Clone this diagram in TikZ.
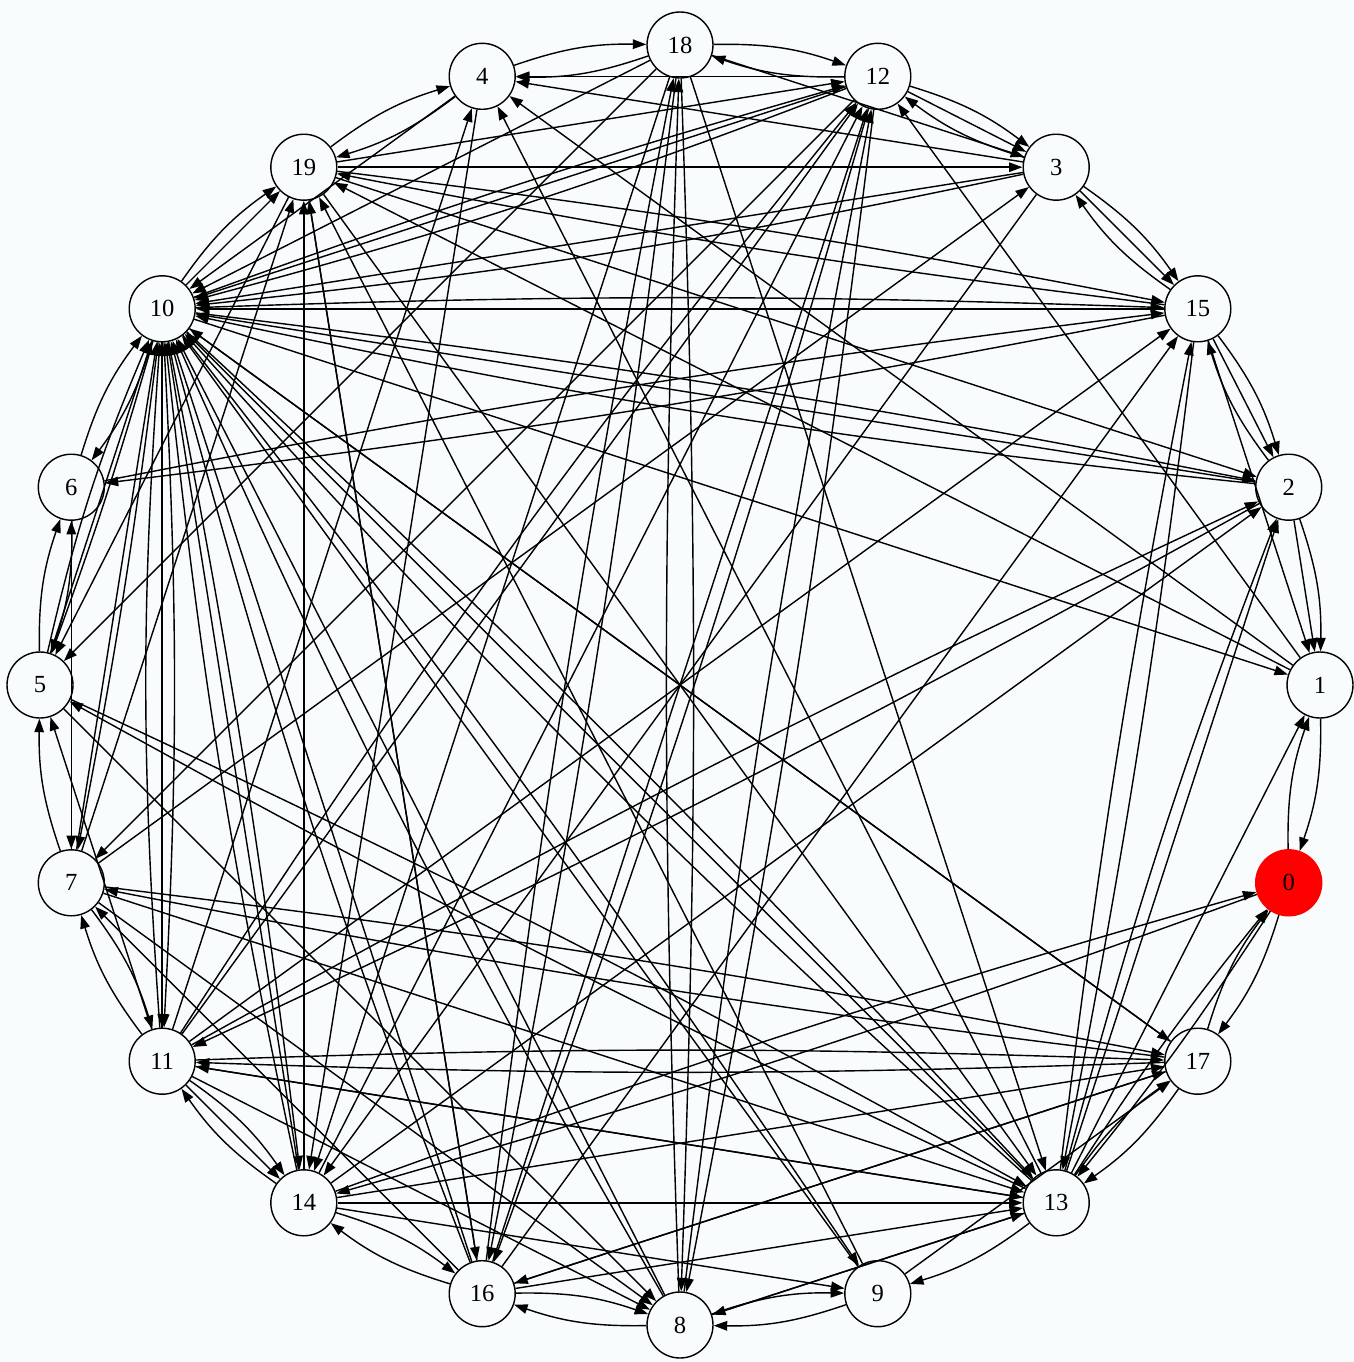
\documentclass[tikz,border=0pt]{standalone}
\usepackage{fontspec}
\setmainfont{Liberation Serif}
\usetikzlibrary{arrows.meta}
\definecolor{bgc}{RGB}{248,252,252}
\begin{document}
\begin{tikzpicture}[x=0.02cm,y=-0.02cm,
  vtx/.style={circle,draw,line width=0.8pt,minimum size=1.32cm,inner sep=0pt,font=\fontsize{14}{16}\selectfont},
  ed/.style={line width=0.8pt,-{Triangle[length=0.27cm,width=0.19cm]}}]
\path[use as bounding box,fill=bgc] (0,0) rectangle (1354,1362);
\node[vtx] (n18) at (680,45) {18};
\node[vtx] (n12) at (877.8,76.3) {12};
\node[vtx] (n3) at (1056.2,167.2) {3};
\node[vtx] (n15) at (1197.8,308.8) {15};
\node[vtx] (n2) at (1288.7,487.2) {2};
\node[vtx] (n1) at (1320,685) {1};
\node[vtx,fill=red,draw=red] (n0) at (1288.7,882.8) {0};
\node[vtx] (n17) at (1197.8,1061.2) {17};
\node[vtx] (n13) at (1056.2,1202.8) {13};
\node[vtx] (n9) at (877.8,1293.7) {9};
\node[vtx] (n8) at (680,1325) {8};
\node[vtx] (n16) at (482.2,1293.7) {16};
\node[vtx] (n14) at (303.8,1202.8) {14};
\node[vtx] (n11) at (162.2,1061.2) {11};
\node[vtx] (n7) at (71.3,882.8) {7};
\node[vtx] (n5) at (40,685) {5};
\node[vtx] (n6) at (71.3,487.2) {6};
\node[vtx] (n10) at (162.2,308.8) {10};
\node[vtx] (n19) at (303.8,167.2) {19};
\node[vtx] (n4) at (482.2,76.3) {4};
\foreach \a/\b/\bb in {
 4/18/10, 18/4/10, 18/12/10, 12/18/10, 12/3/10, 12/3/0, 3/12/10,
 3/15/10, 3/15/0, 15/3/10, 15/2/10, 15/2/0, 2/15/10, 2/1/10, 2/1/0,
 1/0/10, 0/1/10, 0/17/10, 17/0/10, 17/13/10, 13/17/10, 13/9/10,
 9/8/10, 8/9/10, 8/16/10, 16/8/10, 16/14/10, 14/16/10,
 14/11/10, 11/14/10, 11/14/0, 11/7/10, 7/11/10, 7/5/10, 5/6/10, 6/5/10,
 10/6/10, 6/10/10, 10/19/10, 10/19/0, 4/19/10, 19/4/10,
 4/10/0, 18/10/0, 12/10/0, 12/10/3, 3/10/0, 3/10/3, 15/10/0, 2/10/0, 2/10/3,
 17/10/0, 13/10/0, 13/10/3, 9/10/0, 8/10/0, 8/10/3, 16/10/0, 16/10/3,
 14/10/0, 14/10/3, 11/10/0, 11/10/4, 7/10/0, 5/10/0, 5/10/5,
 10/15/2, 10/2/2, 10/17/0, 10/13/2, 10/11/0, 10/11/3, 10/7/2, 10/5/2,
 10/14/2, 10/9/2, 10/12/2, 10/1/0,
 12/4/0, 3/4/0, 13/4/0, 11/4/0, 4/14/0,
 18/3/0, 16/18/2, 8/18/2, 18/8/2, 18/16/2, 18/14/0, 18/13/0, 18/5/0,
 12/8/2, 8/12/2, 12/16/2, 14/12/0, 1/12/0, 11/12/0, 11/12/3, 16/12/0, 19/12/0,
 19/3/0, 3/14/0,
 15/1/0, 15/13/2, 13/15/2, 11/15/0, 19/15/2, 15/19/2, 6/15/2, 15/6/2, 16/15/0,
 19/2/0, 11/2/2, 2/11/2, 14/2/0, 13/2/0, 13/2/3,
 1/19/0, 1/4/0, 13/1/0,
 14/0/2, 0/14/2, 13/0/3, 0/13/3,
 7/17/2, 17/7/2, 11/17/2, 17/11/2, 14/17/0, 16/17/0,
 13/5/2, 5/13/2, 13/8/0, 8/13/0, 16/13/0, 14/13/0, 7/13/0, 11/13/0, 19/13/0,
 9/19/0, 14/9/0, 9/17/0,
 5/8/0, 7/8/0, 11/8/0,
 19/16/0, 17/16/0,
 6/7/0, 7/6/0,
 12/7/0, 7/3/0, 16/7/0,
 11/5/0, 19/5/0,
 7/19/0, 14/19/0, 16/19/0,
 13/11/0
}{\draw[ed] (n\a) to[bend left=\bb] (n\b);}
\end{tikzpicture}
\end{document}
